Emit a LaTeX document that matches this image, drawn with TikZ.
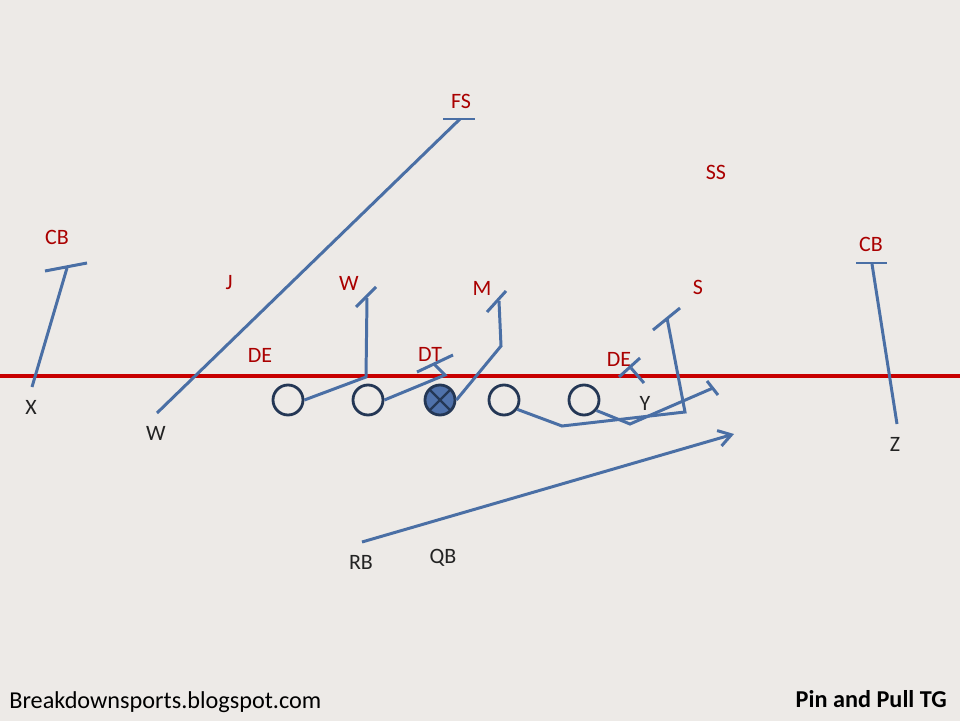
\documentclass[tikz,border=0pt]{standalone}
\usepackage{fontspec}
\setmainfont{Carlito}
\usetikzlibrary{arrows.meta, positioning}
\definecolor{fieldbg}{RGB}{237,234,231}
\definecolor{losred}{RGB}{200,0,0}
\definecolor{defred}{RGB}{170,0,0}
\definecolor{routeblue}{RGB}{74,111,165}
\definecolor{lineman}{RGB}{36,55,85}
\definecolor{centerfill}{RGB}{79,113,170}
\definecolor{offtext}{RGB}{35,35,35}

\begin{document}
\begin{tikzpicture}[x=0.02cm, y=-0.02cm,
  defense/.style={text=defred, font=\fontsize{12.5}{15}\selectfont, inner sep=0pt},
  offense/.style={text=offtext, font=\fontsize{12.5}{15}\selectfont, inner sep=0pt},
  oline/.style={circle, draw=lineman, line width=1.6pt, minimum size=0.6cm, inner sep=0pt},
  route/.style={draw=routeblue, line width=1.7pt}]
\useasboundingbox (0,0) rectangle (960,720);
\fill [fieldbg] (-5,-5) rectangle (965,725);

% line of scrimmage
\coordinate (losl) at (-5,376);
\coordinate (losr) at (965,376);
\draw [losred, line width=2.1pt] (losl) -- (losr);

% defense
\node [defense] (cbl) at (57,237) {CB};
\node [defense] (fs) at (461,101) {FS};
\node [defense] (ss) at (716,172) {SS};
\node [defense] (cbr) at (871,244) {CB};
\node [defense] (j) at (229,283) {J};
\node [defense] (wlb) at (349,283) {W};
\node [defense] (mlb) at (482,288) {M};
\node [defense] (slb) at (698,287) {S};
\node [defense] (del) at (260,355) {DE};
\node [defense] (dt) at (430,354) {DT};
\node [defense] (der) at (619,359) {DE};

% offense
\node [oline] (g1) at (288,400) {};
\node [oline] (g2) at (368,400) {};
\node [oline, fill=centerfill, path picture={
  \draw [lineman, line width=1.3pt]
    (path picture bounding box.north west) -- (path picture bounding box.south east)
    (path picture bounding box.north east) -- (path picture bounding box.south west);}] (g3) at (440,400) {};
\node [oline] (g4) at (504,400) {};
\node [oline] (g5) at (584,400) {};
\node [offense] (x) at (31,407) {X};
\node [offense] (w) at (156,433) {W};
\node [offense] (y) at (645,403) {Y};
\node [offense] (z) at (895,444) {Z};
\node [offense] (rb) at (361,562) {RB};
\node [offense] (qb) at (443,558) {QB};

% route and block ends
\coordinate (xst) at (32,387);    \coordinate (xend) at (67,268);
\coordinate (wst) at (157,413);   \coordinate (wend) at (460,119);
\coordinate (lbwend) at (367,298);
\coordinate (dtend) at (434,364);
\coordinate (mend) at (499,301);
\coordinate (send) at (667,318);
\coordinate (kend) at (713,388);
\coordinate (yst) at (644,383);   \coordinate (deend) at (631,368);
\coordinate (zst) at (897,424);   \coordinate (zend) at (872,264);
\coordinate (rbst) at (362,542);  \coordinate (rbend) at (734,434);

% receivers
\draw [route] (xst) -- (xend);
\draw [route] ([shift={(-22,3)}]xend) -- ([shift={(20,-5)}]xend);
\draw [route] (wst) -- (wend);
\draw [route] ([shift={(-17,0)}]wend) -- ([shift={(15,0)}]wend);
\draw [route] (zst) -- (zend);
\draw [route] ([shift={(-16,-1)}]zend) -- ([shift={(15,-1)}]zend);

% line blocks
\draw [route] (g1.east) -- (366,377) -- (lbwend);
\draw [route] ([shift={(-11,9)}]lbwend) -- ([shift={(9,-11)}]lbwend);
\draw [route] (g2.east) -- (445,375) -- (dtend);
\draw [route] ([shift={(-17,8)}]dtend) -- ([shift={(19,-9)}]dtend);
\draw [route] (g3.east) -- (501,346) -- (mend);
\draw [route] ([shift={(-12,11)}]mend) -- ([shift={(7,-10)}]mend);
\draw [route] (g4.-35) -- (562,426) -- (685,412) -- (send);
\draw [route] ([shift={(-14,12)}]send) -- ([shift={(13,-10)}]send);
\draw [route] (g5.-40) -- (630,424) -- (kend);
\draw [route] ([shift={(-6,-7)}]kend) -- ([shift={(5,7)}]kend);
\draw [route] (yst) -- (deend);
\draw [route] ([shift={(-12,9)}]deend) -- ([shift={(9,-10)}]deend);

% back
\draw [route, -{Straight Barb[length=0.25cm, width=0.32cm]}] (rbst) -- (rbend);

% footer
\node [anchor=base west, font=\fontsize{13.8}{16}\selectfont, inner sep=0pt] (site) at (9,708) {Breakdownsports.blogspot.com};
\node [anchor=base east, font=\fontsize{13.8}{16}\selectfont\bfseries, inner sep=0pt] (title) at (947,707) {Pin and Pull TG};
\end{tikzpicture}
\end{document}
